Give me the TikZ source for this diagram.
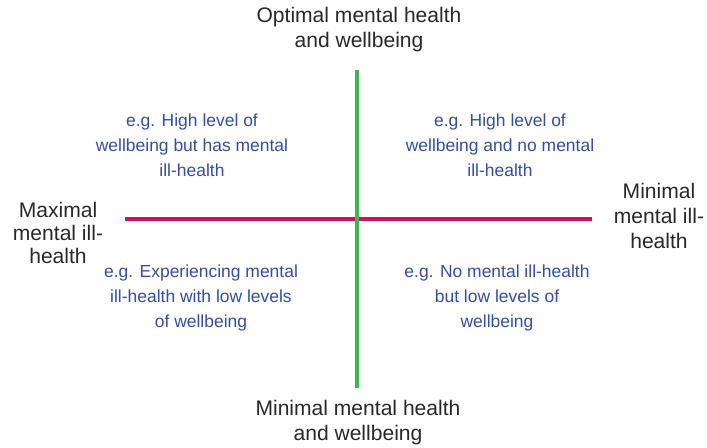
\documentclass[tikz,border=0pt]{standalone}
\usepackage{fontspec}
\setmainfont{Liberation Sans}
\definecolor{qblue}{RGB}{52,78,160}
\definecolor{axgreen}{RGB}{60,180,90}
\definecolor{axred}{RGB}{200,20,90}
\definecolor{lbl}{RGB}{40,40,40}
\begin{document}
\begin{tikzpicture}[x=0.75pt,y=-0.75pt,
  axislbl/.style={text=lbl,align=center,font=\fontsize{15.8}{18.8}\selectfont,inner sep=0pt},
  quad/.style={text=qblue,align=center,font=\fontsize{13.1}{18.7}\selectfont,inner sep=0pt}]
\useasboundingbox (0,0) rectangle (707,448);
\coordinate (vt) at (357,70);
\coordinate (vb) at (357,388);
\coordinate (hl) at (125,219);
\coordinate (hr) at (592,219);
\draw[axred,line width=3pt] (hl) -- (hr);
\draw[axgreen,line width=3pt] (vt) -- (vb);
\node[axislbl] (top) at (359,30) {Optimal mental health\\and wellbeing};
\node[axislbl] (bot) at (358,423) {Minimal mental health\\and wellbeing};
\node[axislbl,font=\fontsize{15.8}{17.3}\selectfont] (left) at (58,233) {Maximal\\mental ill-\\health};
\node[axislbl] (right) at (659,216) {Minimal\\mental ill-\\health};
\node[quad] (q1) at (192,145) {e.g. High level of\\wellbeing but has mental\\ill-health};
\node[quad] (q2) at (500,145) {e.g. High level of\\wellbeing and no mental\\ill-health};
\node[quad] (q3) at (201,298) {e.g. Experiencing mental\\ill-health with low levels\\of wellbeing};
\node[quad] (q4) at (497,298) {e.g. No mental ill-health\\but low levels of\\wellbeing};
\end{tikzpicture}
\end{document}
